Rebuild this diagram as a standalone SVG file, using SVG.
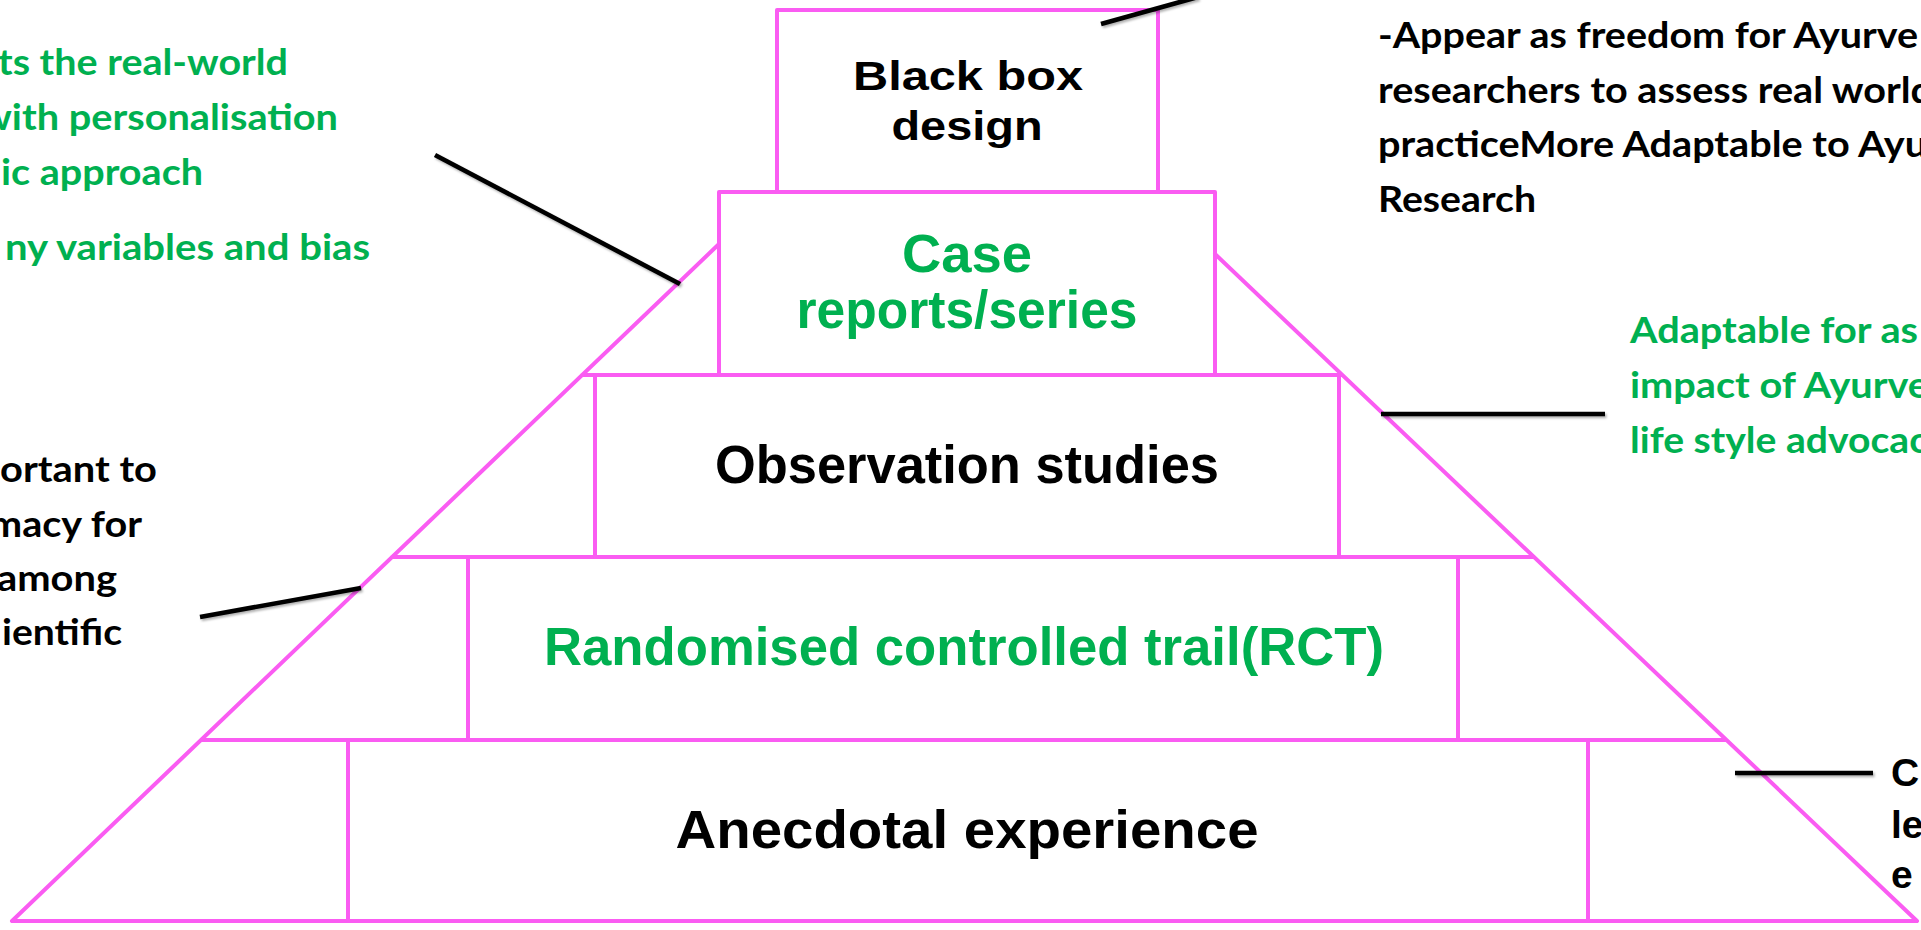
<svg xmlns="http://www.w3.org/2000/svg" width="1921" height="930" viewBox="0 0 1921 930">
<defs>
<style>
.pk{fill:none;stroke:#FA5CF2;stroke-width:4;stroke-linejoin:round;stroke-linecap:round}
.lbl{font-family:"Liberation Sans",Arial,sans-serif;font-weight:700;text-anchor:middle}
.big{font-size:53px}
.mid{font-size:40px}
.note{font-family:Lato,"Open Sans","Liberation Sans",sans-serif;font-weight:700;font-size:37px}
.g{fill:#00B050}
.k{fill:#000000}
.conn line{stroke:#000000;stroke-width:4.6;filter:url(#sh)}
</style>
<filter id="sh" filterUnits="userSpaceOnUse" x="0" y="0" width="1921" height="930">
<feDropShadow dx="1.5" dy="2" stdDeviation="1.3" flood-color="#000000" flood-opacity="0.3"/>
</filter>
</defs>
<rect x="0" y="0" width="1921" height="930" fill="#FFFFFF"/>

<g id="pyramid-frame">
<path class="pk" d="M12 921 L719 244 M1917 921 L1215 254 M12 921 L1917 921 M201 740 L1726 740 M392 557 L1534 557 M582 375 L1342 375"/>
</g>

<g id="tier-anecdotal">
<rect class="pk" x="348" y="740" width="1240" height="181"/>
<text class="lbl big k" x="967" y="848" textLength="583" lengthAdjust="spacingAndGlyphs">Anecdotal experience</text>
</g>

<g id="tier-rct">
<rect class="pk" x="468" y="557" width="990" height="183"/>
<text class="lbl big g" x="964" y="665" textLength="840" lengthAdjust="spacingAndGlyphs">Randomised controlled trail(RCT)</text>
</g>

<g id="tier-observation">
<rect class="pk" x="595" y="375" width="744" height="182"/>
<text class="lbl big k" x="967" y="483" textLength="504" lengthAdjust="spacingAndGlyphs">Observation studies</text>
</g>

<g id="tier-case">
<rect class="pk" x="719" y="192" width="496" height="183"/>
<text class="lbl big g" x="967" y="272" textLength="130" lengthAdjust="spacingAndGlyphs">Case</text>
<text class="lbl big g" x="967" y="328" textLength="341" lengthAdjust="spacingAndGlyphs">reports/series</text>
</g>

<g id="tier-blackbox">
<rect class="pk" x="777" y="10" width="381" height="182"/>
<text class="lbl mid k" x="968" y="90" textLength="230" lengthAdjust="spacingAndGlyphs">Black box</text>
<text class="lbl mid k" x="967" y="140" textLength="151" lengthAdjust="spacingAndGlyphs">design</text>
</g>

<g id="connectors" class="conn">
<line x1="1101" y1="24" x2="1198" y2="-3"/>
<line x1="435" y1="155" x2="680" y2="284"/>
<line x1="200" y1="617" x2="361" y2="588"/>
<line x1="1381" y1="414" x2="1605" y2="414"/>
<line x1="1735" y1="773" x2="1873" y2="773"/>
</g>

<g id="note-left-top" class="note g">
<text x="-2" y="75" textLength="290" lengthAdjust="spacingAndGlyphs">ts the real-world</text>
<text x="-20" y="130" textLength="358" lengthAdjust="spacingAndGlyphs">with personalisation</text>
<text x="1" y="185" textLength="202" lengthAdjust="spacingAndGlyphs">ic approach</text>
<text x="5" y="260" textLength="365" lengthAdjust="spacingAndGlyphs">ny variables and bias</text>
</g>

<g id="note-left-mid" class="note k">
<text x="0" y="482" textLength="157" lengthAdjust="spacingAndGlyphs">ortant to</text>
<text x="-11" y="537" textLength="153" lengthAdjust="spacingAndGlyphs">macy for</text>
<text x="-3" y="591" textLength="120" lengthAdjust="spacingAndGlyphs">among</text>
<text x="2" y="645" textLength="120" lengthAdjust="spacingAndGlyphs">ientific</text>
</g>

<g id="note-right-top" class="note k">
<text x="1378" y="48" textLength="540" lengthAdjust="spacingAndGlyphs">-Appear as freedom for Ayurve</text>
<text x="1378" y="103" textLength="555" lengthAdjust="spacingAndGlyphs">researchers to assess real world</text>
<text x="1378" y="157" textLength="549" lengthAdjust="spacingAndGlyphs">practiceMore Adaptable to Ayu</text>
<text x="1378" y="212" textLength="158" lengthAdjust="spacingAndGlyphs">Research</text>
</g>

<g id="note-right-mid" class="note g">
<text x="1630" y="343" textLength="288" lengthAdjust="spacingAndGlyphs">Adaptable for as</text>
<text x="1630" y="398" textLength="299" lengthAdjust="spacingAndGlyphs">impact of Ayurve</text>
<text x="1630" y="453" textLength="298" lengthAdjust="spacingAndGlyphs">life style advocac</text>
</g>

<g id="note-right-bottom" style="font-family:'Liberation Sans',Arial,sans-serif;font-weight:700;font-size:39px" class="k">
<text x="1891" y="786">C</text>
<text x="1891" y="838">le</text>
<text x="1891" y="888">e</text>
</g>
</svg>
